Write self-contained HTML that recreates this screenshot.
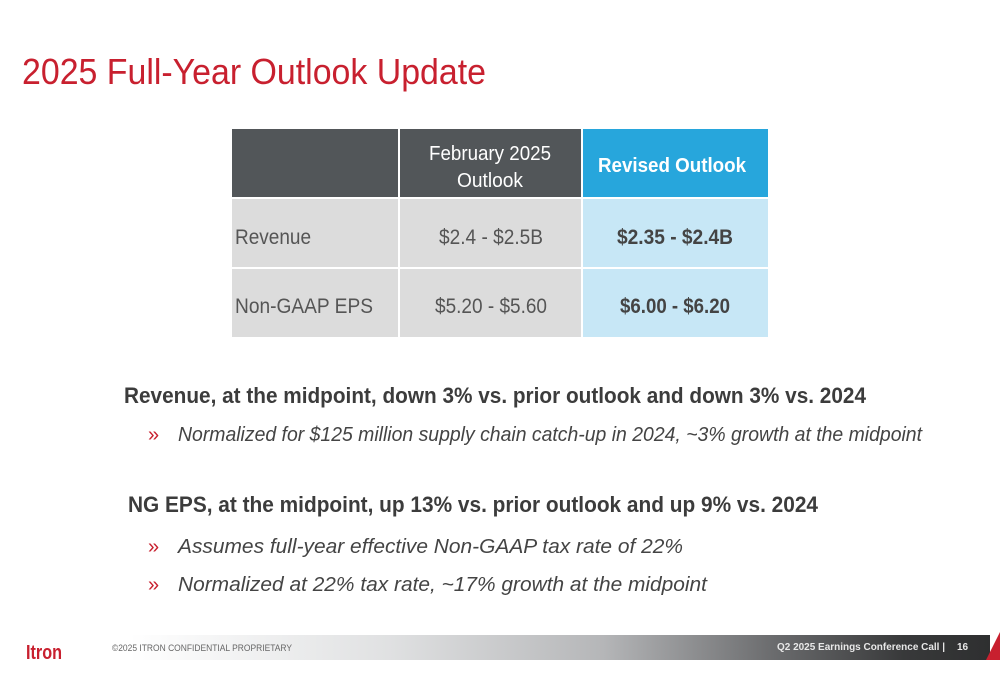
<!DOCTYPE html>
<html><head><meta charset="utf-8"><style>
html,body{margin:0;padding:0;background:#fff;}
svg{display:block;font-family:"Liberation Sans",sans-serif;}
</style></head><body>
<svg width="1000" height="685" viewBox="0 0 1000 685">
<defs>
<linearGradient id="fg" x1="0" x2="1" y1="0" y2="0">
<stop offset="0" stop-color="#ffffff"/>
<stop offset="0.3" stop-color="#e0e1e2"/>
<stop offset="0.55" stop-color="#b5b6b8"/>
<stop offset="0.75" stop-color="#6a6b6d"/>
<stop offset="0.9" stop-color="#38393a"/>
<stop offset="1" stop-color="#2e2f30"/>
</linearGradient>
</defs>
<text x="22" y="84" font-size="36" fill="#c8202f" textLength="464" lengthAdjust="spacingAndGlyphs">2025 Full-Year Outlook Update</text>

<g>
<rect x="232" y="129" width="166" height="68" fill="#525659"/>
<rect x="400" y="129" width="181" height="68" fill="#525659"/>
<rect x="583" y="129" width="185" height="68" fill="#27a6dc"/>
<rect x="232" y="199" width="166" height="68" fill="#dcdcdc"/>
<rect x="400" y="199" width="181" height="68" fill="#dcdcdc"/>
<rect x="583" y="199" width="185" height="68" fill="#c7e7f6"/>
<rect x="232" y="269" width="166" height="68" fill="#dcdcdc"/>
<rect x="400" y="269" width="181" height="68" fill="#dcdcdc"/>
<rect x="583" y="269" width="185" height="68" fill="#c7e7f6"/>
<text x="490" y="160" font-size="20" fill="#fff" text-anchor="middle" textLength="122" lengthAdjust="spacingAndGlyphs">February 2025</text>
<text x="490" y="187" font-size="20" fill="#fff" text-anchor="middle" textLength="66" lengthAdjust="spacingAndGlyphs">Outlook</text>
<text x="672" y="172" font-size="20" font-weight="bold" fill="#fff" text-anchor="middle" textLength="148" lengthAdjust="spacingAndGlyphs">Revised Outlook</text>
<text x="235" y="244" font-size="21" fill="#555" textLength="76" lengthAdjust="spacingAndGlyphs">Revenue</text>
<text x="491" y="244" font-size="21" fill="#555" text-anchor="middle" textLength="104" lengthAdjust="spacingAndGlyphs">$2.4 - $2.5B</text>
<text x="675" y="244" font-size="21" font-weight="bold" fill="#444" text-anchor="middle" textLength="116" lengthAdjust="spacingAndGlyphs">$2.35 - $2.4B</text>
<text x="235" y="313" font-size="21" fill="#555" textLength="138" lengthAdjust="spacingAndGlyphs">Non-GAAP EPS</text>
<text x="491" y="313" font-size="21" fill="#555" text-anchor="middle" textLength="112" lengthAdjust="spacingAndGlyphs">$5.20 - $5.60</text>
<text x="675" y="313" font-size="21" font-weight="bold" fill="#444" text-anchor="middle" textLength="110" lengthAdjust="spacingAndGlyphs">$6.00 - $6.20</text>
</g>

<text x="124" y="403" font-size="22" font-weight="bold" fill="#3c3c3c" textLength="742" lengthAdjust="spacingAndGlyphs">Revenue, at the midpoint, down 3% vs. prior outlook and down 3% vs. 2024</text>
<text x="148" y="441" font-size="20" fill="#c8202f">»</text>
<text x="178" y="441" font-size="20" font-style="italic" fill="#444" textLength="744" lengthAdjust="spacingAndGlyphs">Normalized for $125 million supply chain catch-up in 2024, ~3% growth at the midpoint</text>
<text x="128" y="512" font-size="22" font-weight="bold" fill="#3c3c3c" textLength="690" lengthAdjust="spacingAndGlyphs">NG EPS, at the midpoint, up 13% vs. prior outlook and up 9% vs. 2024</text>
<text x="148" y="553" font-size="20" fill="#c8202f">»</text>
<text x="178" y="553" font-size="20" font-style="italic" fill="#444" textLength="505" lengthAdjust="spacingAndGlyphs">Assumes full-year effective Non-GAAP tax rate of 22%</text>
<text x="148" y="591" font-size="20" fill="#c8202f">»</text>
<text x="178" y="591" font-size="20" font-style="italic" fill="#444" textLength="529" lengthAdjust="spacingAndGlyphs">Normalized at 22% tax rate, ~17% growth at the midpoint</text>

<g>
<rect x="130" y="635" width="860" height="25" fill="url(#fg)"/>
<polygon points="986,660 1000,632 1000,660" fill="#c8202f"/>
<text x="26" y="659" font-size="20" font-weight="bold" fill="#c8202f" textLength="36" lengthAdjust="spacingAndGlyphs">Itron</text>
<text x="112" y="651" font-size="9" fill="#666" textLength="180" lengthAdjust="spacingAndGlyphs">©2025  ITRON CONFIDENTIAL PROPRIETARY</text>
<text x="777" y="650" font-size="10" font-weight="bold" fill="#e8e8e8" textLength="168" lengthAdjust="spacingAndGlyphs">Q2 2025 Earnings Conference Call |</text>
<text x="957" y="650" font-size="10" font-weight="bold" fill="#e8e8e8">16</text>
</g>
</svg>
</body></html>
